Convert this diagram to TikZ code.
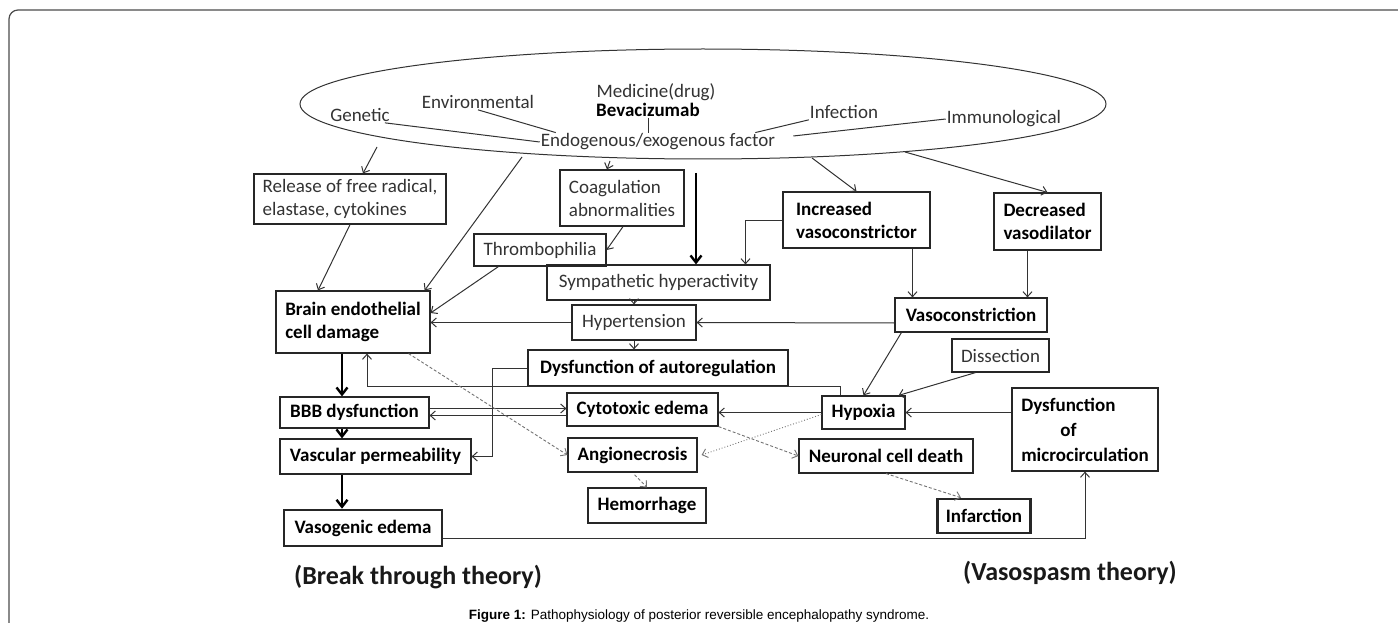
\documentclass[tikz,border=0pt]{standalone}
\usepackage{fontspec}
\setmainfont{Carlito}
\newfontfamily\capfont{Liberation Sans}
\usetikzlibrary{shapes, arrows.meta}
\tikzstyle{lbox} = [draw=black!85, line width=1.2pt, rectangle, inner sep=0pt, align=left, text=black!80, font=\fontsize{19}{23}\selectfont]
\tikzstyle{bbox} = [lbox, text=black, font=\fontsize{19}{23}\selectfont\bfseries]
\tikzstyle{heavybox} = [bbox, line width=2.6pt]
\tikzstyle{cause} = [inner sep=1pt, text=black!80, font=\fontsize{19}{23}\selectfont]
\tikzstyle{tie} = [line width=1pt, draw=black!80]
\tikzstyle{link} = [->, line width=1pt, draw=black!80]
\tikzstyle{heavylink} = [-{Straight Barb[length=7pt,width=11pt]}, line width=2.4pt]
\tikzstyle{dashlink} = [->, line width=0.9pt, densely dashed, draw=black!55]
\tikzstyle{theory} = [text=black!90, font=\fontsize{26}{30}\selectfont\bfseries]

\begin{document}
\begin{tikzpicture}[x=1pt, y=-1pt, >={Straight Barb[length=5pt,width=9pt]}]
  \useasboundingbox (0,0) rectangle (1398,623);
  \draw[black!70, line width=1.2pt, rounded corners=9pt] (9,623) -- (9,10) -- (1398,10);

  % causes
  \node[draw=black!80, line width=1pt, ellipse, minimum width=806, minimum height=110, inner sep=0pt] (ell) at (703,104) {};
  \node[cause] (med) at (656,92) {Medicine(drug)};
  \node[cause, text=black, font=\fontsize{19}{23}\selectfont\bfseries] (beva) at (648,110) {Bevacizumab};
  \node[cause] (env) at (478,102) {Environmental};
  \node[cause] (gen) at (360,115) {Genetic};
  \node[cause] (endo) at (658,142) {Endogenous/exogenous factor};
  \node[cause] (inf) at (844,112) {Infection};
  \node[cause] (imm) at (1004,119) {Immunological};
  \draw[tie] ([xshift=-6]gen.south east) -- (endo.west);
  \draw[tie] (env.south) -- ([xshift=16]endo.north west);
  \draw[tie] (beva.south) -- (beva.south |- endo.north);
  \draw[tie] (inf.south west) -- ([xshift=-21]endo.north east);
  \draw[tie] (imm.west) -- ([xshift=17,yshift=6]endo.east);

  % boxes
  \node[lbox, minimum width=192, minimum height=50] (rel) at (350,199) {Release of free radical,\\elastase, cytokines};
  \node[lbox, minimum width=124, minimum height=56] (coag) at (622,198) {Coagulation\\abnormalities};
  \node[bbox, minimum width=147, minimum height=56] (incr) at (856.5,220) {Increased\\vasoconstrictor};
  \node[bbox, minimum width=107, minimum height=57] (decr) at (1047.5,221.5) {Decreased\\vasodilator};
  \node[lbox, minimum width=132, minimum height=32] (thromb) at (540,250) {Thrombophilia};
  \node[lbox, minimum width=223, minimum height=35] (sym) at (658.5,282.5) {Sympathetic hyperactivity};
  \node[bbox, minimum width=154, minimum height=62] (brain) at (353,322) {Brain endothelial\\cell damage};
  \node[lbox, minimum width=124, minimum height=35] (hyp) at (634,322.5) {Hypertension};
  \node[bbox, minimum width=152, minimum height=34] (vc) at (971,315) {Vasoconstriction};
  \node[lbox, minimum width=97, minimum height=33] (ds) at (1000.5,355.5) {Dissection};
  \node[bbox, minimum width=260, minimum height=36] (ar) at (658,368) {Dysfunction of autoregulation};
  \node[bbox, minimum width=149, minimum height=31] (bbb) at (354.5,412.5) {BBB dysfunction};
  \node[bbox, minimum width=151, minimum height=33] (cyto) at (642.5,409.5) {Cytotoxic edema};
  \node[bbox, minimum width=83, minimum height=33] (hx) at (863.5,412.5) {Hypoxia};
  \node[bbox, minimum width=146, minimum height=83, font=\fontsize{19}{25}\selectfont\bfseries] (mc) at (1085,429.5) {Dysfunction\\\hspace*{39pt}of\\microcirculation};
  \node[bbox, minimum width=191, minimum height=35] (vp) at (375.5,456.5) {Vascular permeability};
  \node[bbox, minimum width=129, minimum height=34] (angio) at (632.5,455) {Angionecrosis};
  \node[bbox, minimum width=174, minimum height=34] (neur) at (886,456) {Neuronal cell death};
  \node[bbox, minimum width=118, minimum height=35] (hem) at (647,505.5) {Hemorrhage};
  \node[heavybox, minimum width=158, minimum height=36] (vaso) at (363,528) {Vasogenic edema};
  \node[heavybox, minimum width=93, minimum height=34] (infc) at (984,516) {Infarction};

  % free ends
  \coordinate (e1) at (377,147);
  \coordinate (e2) at (522,157);
  \coordinate (e3) at (610,161);
  \coordinate (e4) at (812,158);
  \coordinate (e5) at (905,152);
  \coordinate (thk) at (696,173);
  \coordinate (fb) at (367,386);
  \coordinate (col) at (342,0);

  % arrows
  \draw[link] (e1) -- ([xshift=13]rel.north);
  \draw[link] (e2) -- ([xshift=-6]brain.north east);
  \draw[link] (e3) -- ([xshift=-15]coag.north);
  \draw[link] (e4) -- (incr.north);
  \draw[link] (e5) -- (decr.north);
  \draw[heavylink] (thk) -- (thk |- sym.north);
  \draw[link] (rel.south) -- ([xshift=-35]brain.north);
  \draw[link] ([xshift=1]coag.south) -- (thromb.east);
  \draw[link] ([xshift=25]thromb.south west) -- ([yshift=9]brain.east);
  \draw[link] (incr.west) -| ([xshift=87]sym.north);
  \draw[link] ([xshift=56]incr.south) -- ([xshift=56]incr.south |- vc.north);
  \draw[link] ([xshift=-20]decr.south) -- ([xshift=-20]decr.south |- vc.north);
  \draw[link] (sym.south -| hyp.north) -- (hyp.north);
  \draw[link] (hyp.south) -- (hyp.south |- ar.north);
  \draw[link] (hyp.west) -- (hyp.west -| brain.east);
  \draw[link] ([yshift=-8]vc.west) -- (hyp.east);
  \draw[link] ([xshift=7]vc.south west) -- (hx.north);
  \draw[link] ([xshift=-25]ds.south) -- ([xshift=-7]hx.north east);
  \draw[link] (mc.west |- hx.east) -- (hx.east);
  \draw[link] ([xshift=-23]hx.north) |- (fb) -- (fb |- brain.south);
  \draw[link] (ar.west) -| ([xshift=21]vp.east) -- (vp.east);
  \draw[heavylink] (col |- brain.south) -- (col |- bbb.north);
  \draw[heavylink] (col |- bbb.south) -- (col |- vp.north);
  \draw[heavylink] (col |- vp.south) -- (col |- vaso.north);
  \draw[link] ([yshift=4]bbb.east) -- ([yshift=4]bbb.east -| cyto.west);
  \draw[link] ([yshift=-6]cyto.west) -- ([yshift=-6]cyto.west -| bbb.east);
  \draw[link] (hx.west) -- (hx.west -| cyto.east);
  \draw[dashlink] ([xshift=-22]brain.south east) -- (angio.west);
  \draw[dashlink, dotted] ([yshift=-2]hx.west) -- ([xshift=4]angio.east);
  \draw[dashlink] (cyto.south east) -- (neur.west);
  \draw[dashlink, shorten <=3pt] (angio.south) -- (hem.north);
  \draw[dashlink] (neur.south) -- ([xshift=-23]infc.north);
  \draw[link] ([yshift=-10]vaso.east) -| (mc.south);

  % theories and caption
  \node[theory] (bt) at (418,577) {(Break through theory)};
  \node[theory] (vt) at (1070,573) {(Vasospasm theory)};
  \node[anchor=base, font=\capfont\fontsize{13.5}{16}\selectfont] (cap) at (699,619) {\textbf{Figure 1:} Pathophysiology of posterior reversible encephalopathy syndrome.};
\end{tikzpicture}
\end{document}
